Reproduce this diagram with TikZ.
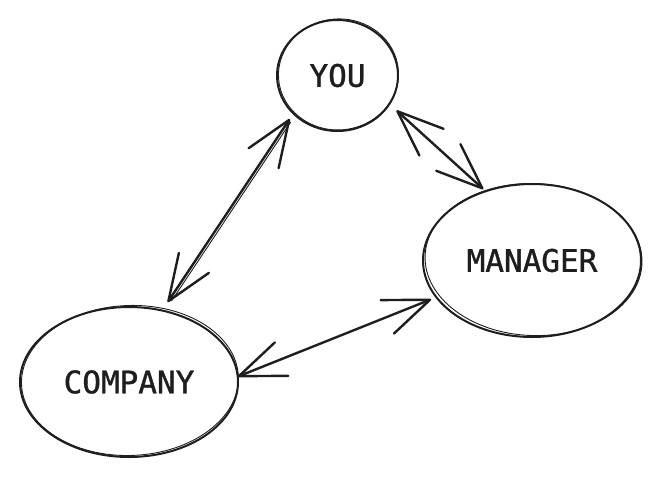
\documentclass[tikz,border=0pt]{standalone}
\usepackage{fontspec}
\newfontfamily\handmono[FakeBold=1.2]{DejaVu Sans Mono}
\usetikzlibrary{shapes.geometric,arrows.meta}
\definecolor{ink}{HTML}{1E1E1E}
\begin{document}
\begin{tikzpicture}[x=1pt,y=-1pt,
  bubble/.style={ellipse, draw=ink, line width=2pt, inner sep=0pt,
    font=\handmono\fontsize{31}{31}\selectfont, text=ink},
  barb/.tip={Straight Barb[length=46pt,width=36pt,round]},
  link/.style={draw=ink, line width=2.4pt, line cap=round, barb-barb},
  retrace/.style={draw=ink, line width=0.9pt, line cap=round}]
\useasboundingbox (0,0) rectangle (660,480);

% the three parties
\node[bubble, minimum width=121pt, minimum height=111pt] (you) at (337.5,75.5) {YOU};
\node[bubble, minimum width=218pt, minimum height=153pt] (manager) at (532,260.5) {MANAGER};
\node[bubble, minimum width=218pt, minimum height=150pt] (company) at (129,382) {COMPANY};

% second, looser pencil strokes around each bubble
\draw[retrace, rotate around={4:(you.center)}] ([shift={(1,-1)}]you.center) ellipse [x radius=60, y radius=55.5];
\draw[retrace, rotate around={-2:(manager.center)}] ([shift={(1.5,-1)}]manager.center) ellipse [x radius=108.5, y radius=76];
\draw[retrace, rotate around={2:(company.center)}] ([shift={(1,-1.5)}]company.center) ellipse [x radius=108.5, y radius=75];

% two-way relations
\draw[link, shorten <=5.5pt, shorten >=9pt] (you.221.8) -- (company.65.8);
\draw[retrace, shorten <=8pt, shorten >=12pt] ([shift={(2.2,1.2)}]you.221.8) -- ([shift={(2.2,1.2)}]company.65.8);
\draw[link, shorten <=8.6pt, shorten >=2pt] (you.331.4) -- (manager.124.8);
\draw[link, shorten <=-1pt, shorten >=4.6pt] (company.3.2) -- (manager.201);
\end{tikzpicture}
\end{document}
